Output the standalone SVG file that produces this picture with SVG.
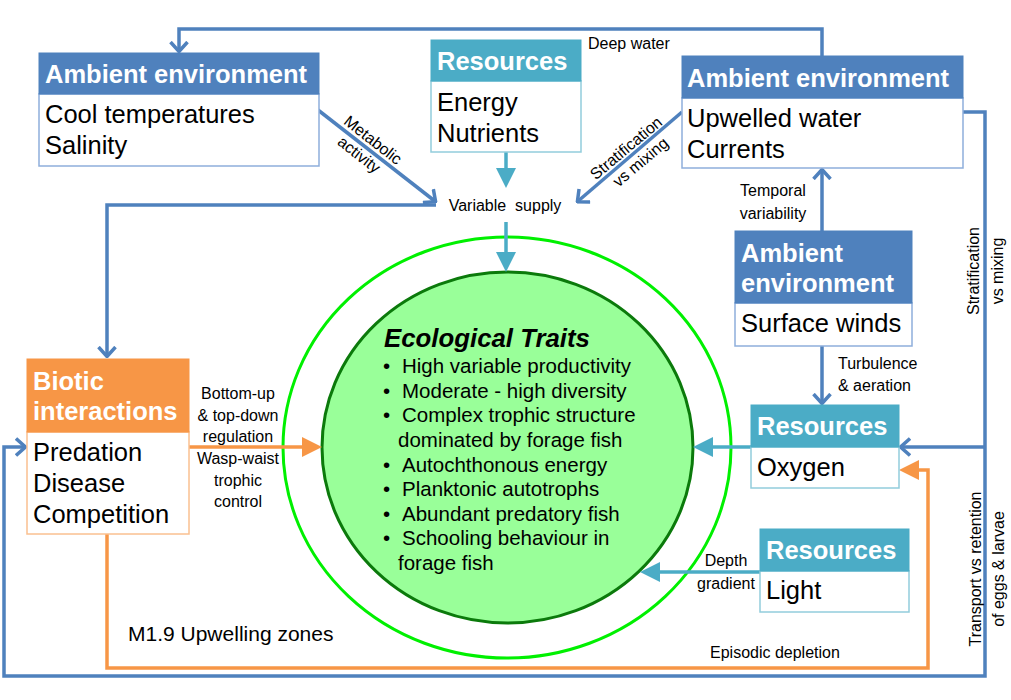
<svg xmlns="http://www.w3.org/2000/svg" width="1011" height="700" viewBox="0 0 1011 700">
<style>
.hd{font-family:"Liberation Sans",Arial,sans-serif;font-weight:bold;font-size:25.5px;fill:#fff}
.bd{font-family:"Liberation Sans",Arial,sans-serif;font-size:25.5px;fill:#000}
.lb{font-family:"Liberation Sans",Arial,sans-serif;font-size:16px;fill:#000}
.tr{font-family:"Liberation Sans",Arial,sans-serif;font-size:20.5px;fill:#000}
.blue{fill:none;stroke:#4F81BD;stroke-width:3.5}
.cyan{fill:none;stroke:#4BACC6;stroke-width:3.5}
.orng{fill:none;stroke:#F79646;stroke-width:3.5}
.hB{fill:#4F81BD;stroke:#4F81BD;stroke-width:1}
.bB{fill:#fff;stroke:#8EAEDB;stroke-width:1.5}
.hC{fill:#4BACC6;stroke:#4BACC6;stroke-width:1}
.bC{fill:#fff;stroke:#92CDDC;stroke-width:1.5}
.hO{fill:#F79646;stroke:#F79646;stroke-width:1}
.bO{fill:#fff;stroke:#FAC090;stroke-width:1.5}
</style>
<defs>
<marker id="chev" viewBox="0 0 12 20" refX="11" refY="10" markerWidth="12" markerHeight="20" markerUnits="userSpaceOnUse" orient="auto">
<path d="M1,1.5 L10.5,10 L1,18.5" fill="none" stroke="#4F81BD" stroke-width="3.5"/>
</marker>
<marker id="triC" viewBox="0 0 20 20" refX="2" refY="10" markerWidth="20" markerHeight="20" markerUnits="userSpaceOnUse" orient="auto">
<path d="M0,0 L20,10 L0,20 z" fill="#4BACC6"/>
</marker>
<marker id="triO" viewBox="0 0 20 20" refX="2" refY="10" markerWidth="20" markerHeight="20" markerUnits="userSpaceOnUse" orient="auto">
<path d="M0,0 L20,10 L0,20 z" fill="#F79646"/>
</marker>
</defs>
<rect width="1011" height="700" fill="#fff"/>

<g id="circles">
<ellipse cx="507" cy="447.5" rx="224" ry="210.5" fill="none" stroke="#00F000" stroke-width="3"/>
<ellipse cx="507.5" cy="447.5" rx="185.5" ry="175.5" fill="#99FF99" stroke="#0B7A0B" stroke-width="3"/>
</g>

<g id="connectors">
<path class="blue" d="M822,56 V29 H179 V52" marker-end="url(#chev)"/>
<path class="blue" d="M318,110 L436,202" marker-end="url(#chev)"/>
<path class="blue" d="M436,205 H107 V357" marker-end="url(#chev)"/>
<path class="blue" d="M682,112 L577,202" marker-end="url(#chev)"/>
<path class="cyan" d="M506,152 V170" marker-end="url(#triC)"/>
<path class="cyan" d="M506,222 V254" marker-end="url(#triC)"/>
<path class="blue" d="M822,231 V169" marker-end="url(#chev)"/>
<path class="blue" d="M822,346 V404" marker-end="url(#chev)"/>
<path class="blue" d="M963,112 H985 V676 H4 V447 H26" marker-end="url(#chev)"/>
<path class="blue" d="M985,447 H900" marker-end="url(#chev)"/>
<path class="orng" d="M107,534 V668 H928 V470 H917" marker-end="url(#triO)"/>
<path class="orng" d="M189,447 H304" marker-end="url(#triO)"/>
<path class="cyan" d="M751,447 H711" marker-end="url(#triC)"/>
<path class="cyan" d="M760,572 H658" marker-end="url(#triC)"/>
</g>

<g id="labels">
<text class="lb" x="588" y="49">Deep water</text>
<text class="lb" x="505" y="211" text-anchor="middle" xml:space="preserve">Variable  supply</text>
<g transform="translate(373,140) rotate(38)">
<text class="lb" x="0" y="5.5" text-anchor="middle">Metabolic</text>
<text class="lb" x="-2" y="25.5" text-anchor="middle">activity</text>
</g>
<g transform="translate(626,148) rotate(-40)">
<text class="lb" x="0" y="5.5" text-anchor="middle">Stratification</text>
<text class="lb" x="2" y="25.5" text-anchor="middle">vs mixing</text>
</g>
<text class="lb" x="773" y="196" text-anchor="middle">Temporal</text>
<text class="lb" x="773" y="219" text-anchor="middle">variability</text>
<text class="lb" x="838" y="369">Turbulence</text>
<text class="lb" x="838" y="391">&amp; aeration</text>
<g transform="translate(973,271) rotate(-90)">
<text class="lb" x="0" y="5.5" text-anchor="middle">Stratification</text>
<text class="lb" x="0" y="30" text-anchor="middle">vs mixing</text>
</g>
<g transform="translate(975,569) rotate(-90)">
<text class="lb" x="0" y="5.5" text-anchor="middle">Transport vs retention</text>
<text class="lb" x="0" y="29" text-anchor="middle">of eggs &amp; larvae</text>
</g>
<text class="lb" x="238" y="399" text-anchor="middle">Bottom-up</text>
<text class="lb" x="238" y="421" text-anchor="middle">&amp; top-down</text>
<text class="lb" x="238" y="442" text-anchor="middle">regulation</text>
<text class="lb" x="238" y="464" text-anchor="middle">Wasp-waist</text>
<text class="lb" x="238" y="486" text-anchor="middle">trophic</text>
<text class="lb" x="238" y="507" text-anchor="middle">control</text>
<text class="lb" x="726" y="566" text-anchor="middle">Depth</text>
<text class="lb" x="726" y="589" text-anchor="middle">gradient</text>
<text class="lb" x="710" y="658">Episodic depletion</text>
<text class="lb" x="128" y="641" style="font-size:21px">M1.9 Upwelling zones</text>
</g>

<g id="ambient-cool">
<rect class="bB" x="39" y="94" width="280" height="72"/>
<rect class="hB" x="39" y="53" width="280" height="41"/>
<text class="hd" x="45" y="83">Ambient environment</text>
<text class="bd" x="45" y="123">Cool temperatures</text>
<text class="bd" x="45" y="154">Salinity</text>
</g>

<g id="resources-energy">
<rect class="bC" x="431" y="81" width="150" height="71"/>
<rect class="hC" x="431" y="40" width="150" height="41"/>
<text class="hd" x="437" y="70">Resources</text>
<text class="bd" x="437" y="111">Energy</text>
<text class="bd" x="437" y="142">Nutrients</text>
</g>

<g id="ambient-upwelled">
<rect class="bB" x="682" y="98" width="281" height="70"/>
<rect class="hB" x="682" y="56" width="281" height="42"/>
<text class="hd" x="687" y="87">Ambient environment</text>
<text class="bd" x="687" y="127">Upwelled water</text>
<text class="bd" x="687" y="158">Currents</text>
</g>

<g id="ambient-winds">
<rect class="bB" x="735" y="303" width="177" height="43"/>
<rect class="hB" x="735" y="231" width="177" height="72"/>
<text class="hd" x="741" y="262">Ambient</text>
<text class="hd" x="741" y="292">environment</text>
<text class="bd" x="741" y="332">Surface winds</text>
</g>

<g id="resources-oxygen">
<rect class="bC" x="751" y="447" width="148" height="41"/>
<rect class="hC" x="751" y="405" width="148" height="42"/>
<text class="hd" x="757" y="435">Resources</text>
<text class="bd" x="757" y="476">Oxygen</text>
</g>

<g id="resources-light">
<rect class="bC" x="760" y="571" width="149" height="41"/>
<rect class="hC" x="760" y="529" width="149" height="42"/>
<text class="hd" x="766" y="559">Resources</text>
<text class="bd" x="766" y="599">Light</text>
</g>

<g id="biotic">
<rect class="bO" x="27" y="432" width="162" height="102"/>
<rect class="hO" x="27" y="359" width="162" height="73"/>
<text class="hd" x="33" y="390">Biotic</text>
<text class="hd" x="33" y="420">interactions</text>
<text class="bd" x="33" y="461">Predation</text>
<text class="bd" x="33" y="492">Disease</text>
<text class="bd" x="33" y="523">Competition</text>
</g>

<g id="traits">
<text class="tr" x="384" y="347" style="font-weight:bold;font-style:italic;font-size:25.8px">Ecological Traits</text>
<text class="tr" x="383" y="373">•</text><text class="tr" x="402" y="373">High variable productivity</text>
<text class="tr" x="383" y="398">•</text><text class="tr" x="402" y="398">Moderate - high diversity</text>
<text class="tr" x="383" y="422">•</text><text class="tr" x="402" y="422">Complex trophic structure</text>
<text class="tr" x="398" y="447">dominated by forage fish</text>
<text class="tr" x="383" y="472">•</text><text class="tr" x="402" y="472">Autochthonous energy</text>
<text class="tr" x="383" y="496">•</text><text class="tr" x="402" y="496">Planktonic autotrophs</text>
<text class="tr" x="383" y="521">•</text><text class="tr" x="402" y="521">Abundant predatory fish</text>
<text class="tr" x="383" y="545">•</text><text class="tr" x="402" y="545">Schooling behaviour in</text>
<text class="tr" x="398" y="570">forage fish</text>
</g>
</svg>
